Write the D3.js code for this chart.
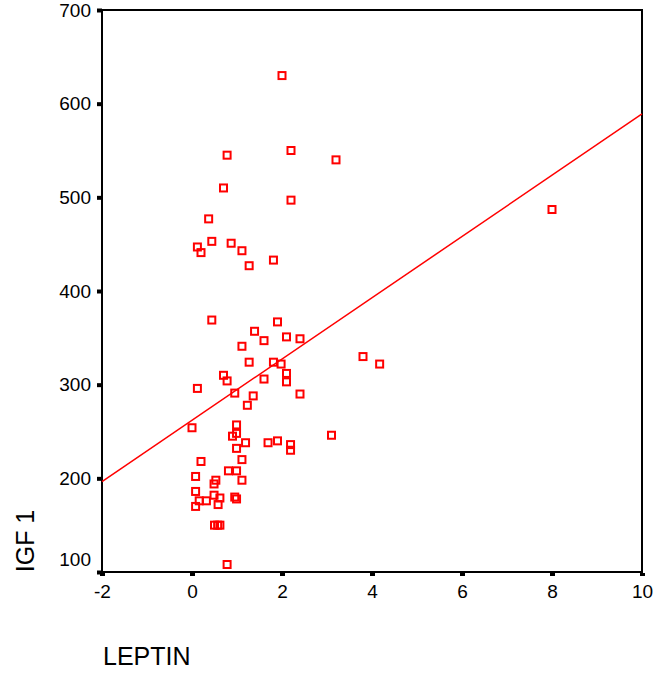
<!DOCTYPE html>
<html>
<head>
<meta charset="utf-8">
<script src="https://cdn.jsdelivr.net/npm/d3@7"></script>
<style>
  html, body { margin: 0; padding: 0; background: #fff; }
  svg { display: block; font-family: "Liberation Sans", Arial, sans-serif; }
</style>
</head>
<body>
<svg id="chart" width="657" height="677"></svg>
<script>
// LEPTIN (x) and IGF 1 (y) observations
const leptin = [
  2.0, 0.78, 2.2, 3.2, 0.7, 2.2, 0.37, 0.44, 0.12, 0.2,
  0.87, 1.11, 1.27, 1.81, 0.44, 1.9, 1.39, 1.6, 2.1, 2.4,
  1.11, 1.27, 1.81, 1.98, 2.1, 2.1, 0.7, 0.78, 1.6, 0.12,
  0.95, 1.36, 1.23, 2.4, 0.0, 0.99, 0.99, 0.9, 0.99, 1.19,
  1.69, 1.9, 2.19, 2.19, 3.1, 1.11, 0.2, 0.81, 0.99, 0.08,
  0.53, 0.49, 1.11, 0.08, 0.16, 0.32, 0.49, 0.62, 0.58, 0.08,
  0.95, 0.99, 0.5, 0.57, 0.62, 0.78, 3.8, 4.17, 8.0
];
const igf1 = [
  630, 545, 550, 540, 510, 497, 477, 453, 447, 441,
  451, 443, 427, 433, 369, 367, 357, 347, 351, 349,
  341, 324, 324, 322, 312, 303, 310, 304, 306, 296,
  291, 288, 278, 290, 254, 257, 248, 245, 232, 238,
  238, 240, 236, 230, 246, 220, 218, 208, 208, 202,
  198, 194, 198, 186, 176, 176, 182, 179, 172, 170,
  180, 178, 150, 150, 150, 108, 330, 322, 487
];

// Linear fit: IGF 1 = intercept + slope * LEPTIN
const fitIntercept = 262;
const fitSlope = 32.7;

const xTicks = [-2, 0, 2, 4, 6, 8, 10];
const yTicks = [100, 200, 300, 400, 500, 600, 700];
const xTitle = "LEPTIN";
const yTitle = "IGF 1";

const svg = d3.select("#chart");
const plotL = 102, plotR = 642, plotT = 10, plotB = 572;

const x = d3.scaleLinear().domain([-2, 10]).range([plotL, plotR]);
const y = d3.scaleLinear().domain([100, 700]).range([plotB, plotT]);
const plain = d => String(d);

// Frame
svg.append("rect")
  .attr("x", plotL).attr("y", plotT)
  .attr("width", plotR - plotL).attr("height", plotB - plotT)
  .attr("fill", "none").attr("stroke", "#000").attr("stroke-width", 2);

// Y axis
const yAxis = svg.append("g")
  .attr("transform", `translate(${plotL},0)`)
  .call(d3.axisLeft(y).tickValues(yTicks).tickSize(5).tickPadding(6).tickFormat(plain));
yAxis.select(".domain").remove();
yAxis.selectAll(".tick line").attr("stroke", "#000").attr("stroke-width", 4);
yAxis.selectAll(".tick text")
  .attr("font-size", 19).attr("fill", "#000")
  .attr("font-family", "Liberation Sans, Arial, sans-serif")
  .attr("dy", d => d === y.domain()[0] ? "-0.33em" : "0.32em");

// X axis
const xAxis = svg.append("g")
  .attr("transform", `translate(0,${plotB})`)
  .call(d3.axisBottom(x).tickValues(xTicks).tickSize(5).tickPadding(8).tickFormat(plain));
xAxis.select(".domain").remove();
xAxis.selectAll(".tick line").attr("stroke", "#000").attr("stroke-width", 5)
  .attr("y1", 1).attr("y2", 4);
xAxis.selectAll(".tick text")
  .attr("font-size", 19).attr("fill", "#000")
  .attr("font-family", "Liberation Sans, Arial, sans-serif");

// Fit line
const fitDomain = x.domain();
svg.append("line")
  .attr("x1", x(fitDomain[0])).attr("y1", y(fitIntercept + fitSlope * fitDomain[0]))
  .attr("x2", x(fitDomain[1])).attr("y2", y(fitIntercept + fitSlope * fitDomain[1]))
  .attr("stroke", "#ff0000").attr("stroke-width", 1.5);

// Points as hollow squares
const pts = leptin.map((v, i) => ({ x: v, y: igf1[i] }));
const s = 7;
svg.append("g").selectAll("rect")
  .data(pts).join("rect")
  .attr("x", d => x(d.x) - s / 2)
  .attr("y", d => y(d.y) - s / 2)
  .attr("width", s).attr("height", s)
  .attr("fill", "none").attr("stroke", "#ff0000").attr("stroke-width", 2);

// Axis titles
svg.append("text")
  .attr("x", 103).attr("y", 665)
  .attr("font-size", 25).attr("fill", "#000")
  .text(xTitle);

svg.append("text")
  .attr("transform", "translate(34,541) rotate(-90)")
  .attr("text-anchor", "middle")
  .attr("font-size", 25).attr("fill", "#000")
  .text(yTitle);
</script>
</body>
</html>
